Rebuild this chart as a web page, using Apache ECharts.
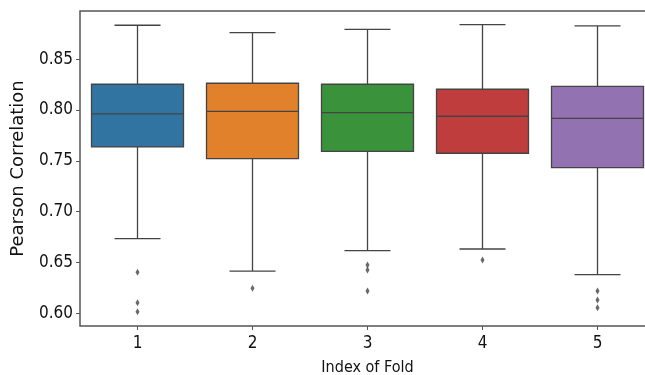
<!DOCTYPE html>
<html>
<head>
<meta charset="utf-8">
<script src="https://cdn.jsdelivr.net/npm/echarts@6/dist/echarts.min.js"></script>
<style>
html,body{margin:0;padding:0;background:#fff;}
#c{width:645px;height:375px;}
</style>
</head>
<body>
<div id="c"></div>
<script>
const categories = ['1', '2', '3', '4', '5'];
const lowerWhisker = [0.6734, 0.6416, 0.6616, 0.6633, 0.6380];
const q1Values = [0.7637, 0.7522, 0.7594, 0.7575, 0.7433];
const medianValues = [0.7962, 0.7988, 0.7974, 0.7939, 0.7919];
const q3Values = [0.8254, 0.8264, 0.8254, 0.8205, 0.8234];
const upperWhisker = [0.8835, 0.8762, 0.8795, 0.8841, 0.8828];
const outliers = [
  [0.6404, 0.6104, 0.6016],
  [0.6246],
  [0.6475, 0.6426, 0.6219],
  [0.6525],
  [0.6219, 0.6131, 0.6055]
];
const yTicks = [0.60, 0.65, 0.70, 0.75, 0.80, 0.85];
const boxColors = ['#3274a1', '#e1812c', '#3a923a', '#c03d3e', '#9372b2'];

const lineColor = '#444444';
const tickFont = "'DejaVu Sans Condensed', 'DejaVu Sans', sans-serif";

const boxData = categories.map((c, i) => [i, lowerWhisker[i], q1Values[i], medianValues[i], q3Values[i], upperWhisker[i]]);
const outlierData = [];
outliers.forEach((arr, i) => arr.forEach(v => outlierData.push([i, v])));

const chart = echarts.init(document.getElementById('c'), null, {renderer: 'canvas'});
chart.setOption({
  animation: false,
  backgroundColor: '#ffffff',
  grid: {
    left: 80, top: 11, width: 575, height: 315,
    outerBoundsMode: 'none',
    containLabel: false,
    show: true, borderColor: '#555555', borderWidth: 1.5, backgroundColor: 'transparent'
  },
  xAxis: {
    type: 'category',
    data: categories,
    boundaryGap: true,
    name: 'Index of Fold',
    nameLocation: 'middle',
    nameGap: 34,
    nameTextStyle: {fontFamily: tickFont, fontSize: 16, color: '#111'},
    axisLine: {show: false},
    axisTick: {show: true, alignWithLabel: true, length: 4, lineStyle: {color: '#555'}},
    axisLabel: {fontFamily: tickFont, fontSize: 17, color: '#111', margin: 9},
    splitLine: {show: false}
  },
  yAxis: {
    type: 'value',
    min: 0.5875,
    max: 0.8975,
    name: 'Pearson Correlation',
    nameLocation: 'middle',
    nameGap: 53,
    nameTextStyle: {fontFamily: "'DejaVu Sans', sans-serif", fontSize: 18, color: '#111'},
    axisLine: {show: false},
    axisTick: {show: true, length: 4, lineStyle: {color: '#555'}, customValues: yTicks},
    axisLabel: {
      fontFamily: tickFont, fontSize: 17, color: '#111', margin: 7,
      customValues: yTicks,
      formatter: v => v.toFixed(2)
    },
    splitLine: {show: false}
  },
  series: [
    {
      type: 'custom',
      data: boxData,
      encode: {x: 0, y: [1, 2, 3, 4, 5]},
      renderItem: function (params, api) {
        const idx = api.value(0);
        const band = api.size([1, 0])[0];
        const boxW = band * 0.8;
        const capW = boxW * 0.5;
        const pMin = api.coord([idx, api.value(1)]);
        const pQ1 = api.coord([idx, api.value(2)]);
        const pMed = api.coord([idx, api.value(3)]);
        const pQ3 = api.coord([idx, api.value(4)]);
        const pMax = api.coord([idx, api.value(5)]);
        const cx = pMed[0];
        const ls = {stroke: lineColor, lineWidth: 1.3};
        return {
          type: 'group',
          children: [
            {type: 'line', shape: {x1: cx, y1: pQ1[1], x2: cx, y2: pMin[1]}, style: ls},
            {type: 'line', shape: {x1: cx, y1: pQ3[1], x2: cx, y2: pMax[1]}, style: ls},
            {type: 'line', shape: {x1: cx - capW / 2, y1: pMin[1], x2: cx + capW / 2, y2: pMin[1]}, style: ls},
            {type: 'line', shape: {x1: cx - capW / 2, y1: pMax[1], x2: cx + capW / 2, y2: pMax[1]}, style: ls},
            {type: 'rect', shape: {x: cx - boxW / 2, y: pQ3[1], width: boxW, height: pQ1[1] - pQ3[1]},
              style: {fill: boxColors[params.dataIndex], stroke: lineColor, lineWidth: 1.3}},
            {type: 'line', shape: {x1: cx - boxW / 2, y1: pMed[1], x2: cx + boxW / 2, y2: pMed[1]}, style: ls}
          ]
        };
      }
    },
    {
      type: 'scatter',
      data: outlierData,
      symbol: 'diamond',
      symbolSize: [4, 7],
      itemStyle: {color: '#444444'}
    }
  ]
});
</script>
</body>
</html>
